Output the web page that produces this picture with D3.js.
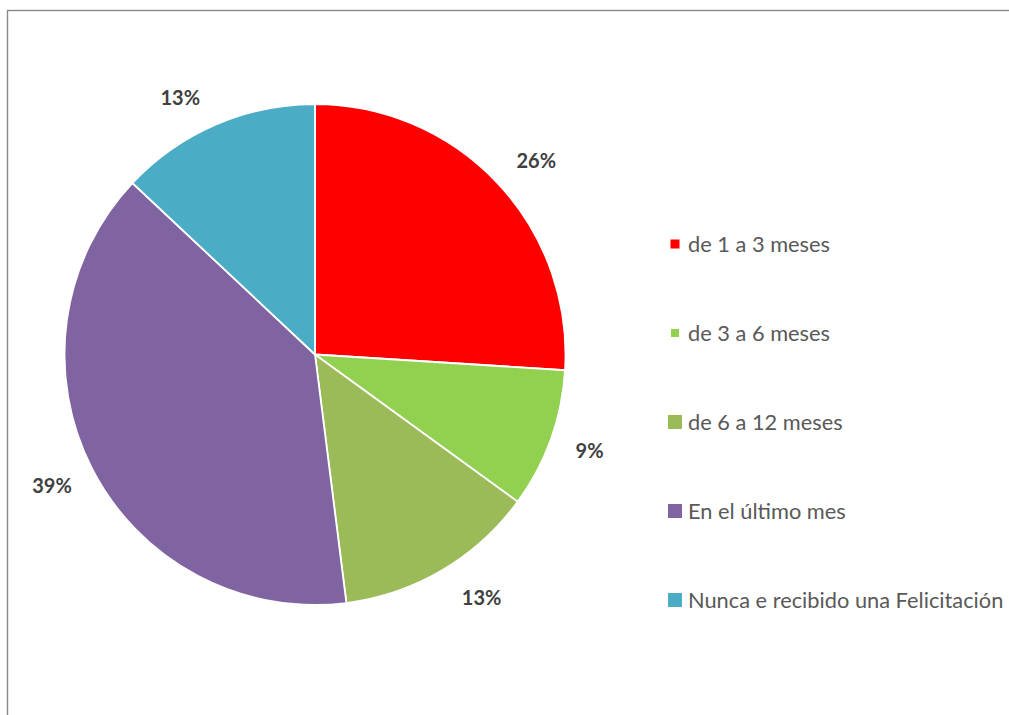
<!DOCTYPE html>
<html>
<head>
<meta charset="utf-8">
<script src="https://cdn.jsdelivr.net/npm/d3@7/dist/d3.min.js"></script>
<style>
  html, body { margin: 0; padding: 0; background: #fff; }
  svg { display: block; }
</style>
</head>
<body>
<svg id="chart" width="1009" height="715"></svg>
<script>
// Categories and their shares (percent)
const categories = [
  "de 1 a 3 meses",
  "de 3 a 6 meses",
  "de 6 a 12 meses",
  "En el último mes",
  "Nunca e recibido una Felicitación"
];
const values = [26, 9, 13, 39, 13];
const colors = ["#FF0000", "#92D050", "#9BBB59", "#8064A2", "#4BACC6"];

// Layout tweaks: legend marker sizes and small label nudges [dx, dy]
const markerSizes = [9, 8, 14, 14, 14];
const labelNudge = [[7, 0], [-2, 0], [17, 0], [-1, 3], [-18, 3]];

const svg = d3.select("#chart");
const W = 1009, H = 715;

// Chart area frame (extends past right/bottom edges)
svg.append("rect")
  .attr("x", 7.5).attr("y", 10.5)
  .attr("width", W + 20).attr("height", H + 20)
  .attr("fill", "#fff")
  .attr("stroke", "#888888")
  .attr("stroke-width", 1.4);

const cx = 315, cy = 354.5, r = 250.5;
const data = categories.map((c, i) => ({
  name: c, value: values[i], color: colors[i], size: markerSizes[i], nudge: labelNudge[i]
}));

const pie = d3.pie().value(d => d.value).sort(null);
const arcs = pie(data);
const arc = d3.arc().innerRadius(0).outerRadius(r);

const g = svg.append("g").attr("transform", `translate(${cx},${cy})`);

g.selectAll("path.slice")
  .data(arcs)
  .enter().append("path")
  .attr("class", "slice")
  .attr("d", arc)
  .attr("fill", d => d.data.color)
  .attr("stroke", "#fff")
  .attr("stroke-width", 1.8)
  .attr("stroke-linejoin", "round");

// Percentage labels placed outside the slice ends
const labelR = 275, hw = 19, hh = 8;
g.selectAll("text.pct")
  .data(arcs)
  .enter().append("text")
  .attr("class", "pct")
  .attr("transform", d => {
    const a = (d.startAngle + d.endAngle) / 2;
    const s = Math.sin(a), c = Math.cos(a);
    const x = labelR * s + hw * s + d.data.nudge[0];
    const y = -labelR * c - hh * c + d.data.nudge[1];
    return `translate(${x},${y})`;
  })
  .attr("text-anchor", "middle")
  .attr("dy", "0.36em")
  .attr("font-family", "Lato, 'Open Sans', sans-serif")
  .attr("font-weight", "bold")
  .attr("font-size", 20)
  .attr("fill", "#404040")
  .text(d => d3.format(".0f")(d.data.value) + "%");

// Legend
const legendY = d3.scalePoint()
  .domain(categories)
  .range([244, 600]);

const legend = svg.append("g");
const items = legend.selectAll("g.item")
  .data(data)
  .enter().append("g")
  .attr("class", "item")
  .attr("transform", d => `translate(675,${legendY(d.name)})`);

items.append("rect")
  .attr("x", d => -d.size / 2)
  .attr("y", d => -d.size / 2)
  .attr("width", d => d.size)
  .attr("height", d => d.size)
  .attr("fill", d => d.color);

items.append("text")
  .attr("x", 13)
  .attr("y", 7.5)
  .attr("font-family", "Lato, 'Open Sans', sans-serif")
  .attr("font-size", 21.8)
  .attr("fill", "#595959")
  .text(d => d.name);
</script>
</body>
</html>
